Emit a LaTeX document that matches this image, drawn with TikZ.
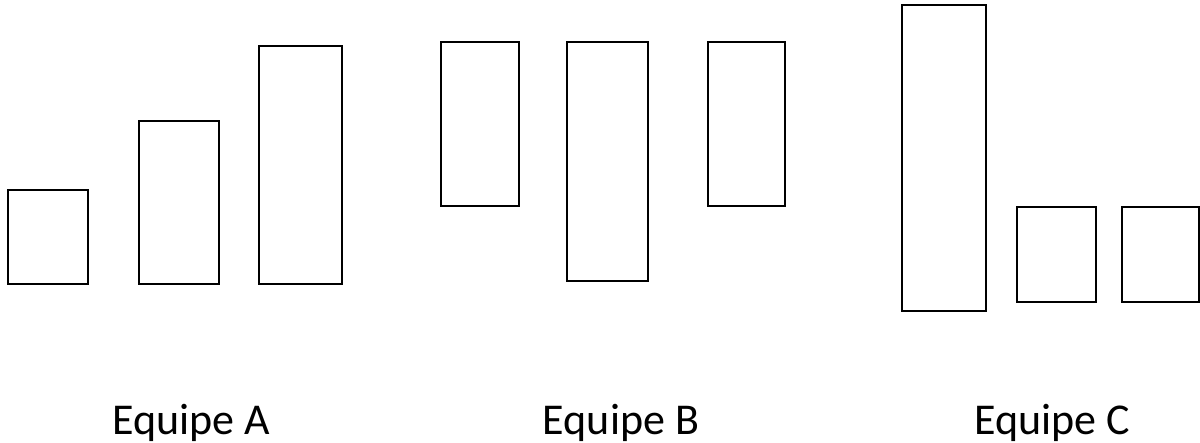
\documentclass[tikz,border=0pt]{standalone}
\usepackage{fontspec}
\setmainfont{Carlito}
\usetikzlibrary{positioning}
\tikzset{
  tbox/.style={draw=black, line width=1.6pt},
  tlabel/.style={anchor=base, inner sep=0pt, font=\fontsize{44}{50}\selectfont},
}
\begin{document}
\begin{tikzpicture}[x=1pt, y=-1pt]
    \useasboundingbox (0,0) rectangle (1200,443);
    % equipe A
    \draw[tbox] (8,190)   rectangle (88,284);
    \draw[tbox] (139,121) rectangle (219,284);
    \draw[tbox] (259,46)  rectangle (342,284);
    % equipe B
    \draw[tbox] (441,42)  rectangle (519,206);
    \draw[tbox] (567,42)  rectangle (648,281);
    \draw[tbox] (708,42)  rectangle (785,206);
    % equipe C
    \draw[tbox] (902,5)    rectangle (986,311);
    \draw[tbox] (1017,207) rectangle (1096,302);
    \draw[tbox] (1122,207) rectangle (1199,302);
    \node[tlabel] (labA) at (191,435)  {Equipe A};
    \node[tlabel] (labB) at (621,435)  {Equipe B};
    \node[tlabel] (labC) at (1052,435) {Equipe C};
\end{tikzpicture}
\end{document}
